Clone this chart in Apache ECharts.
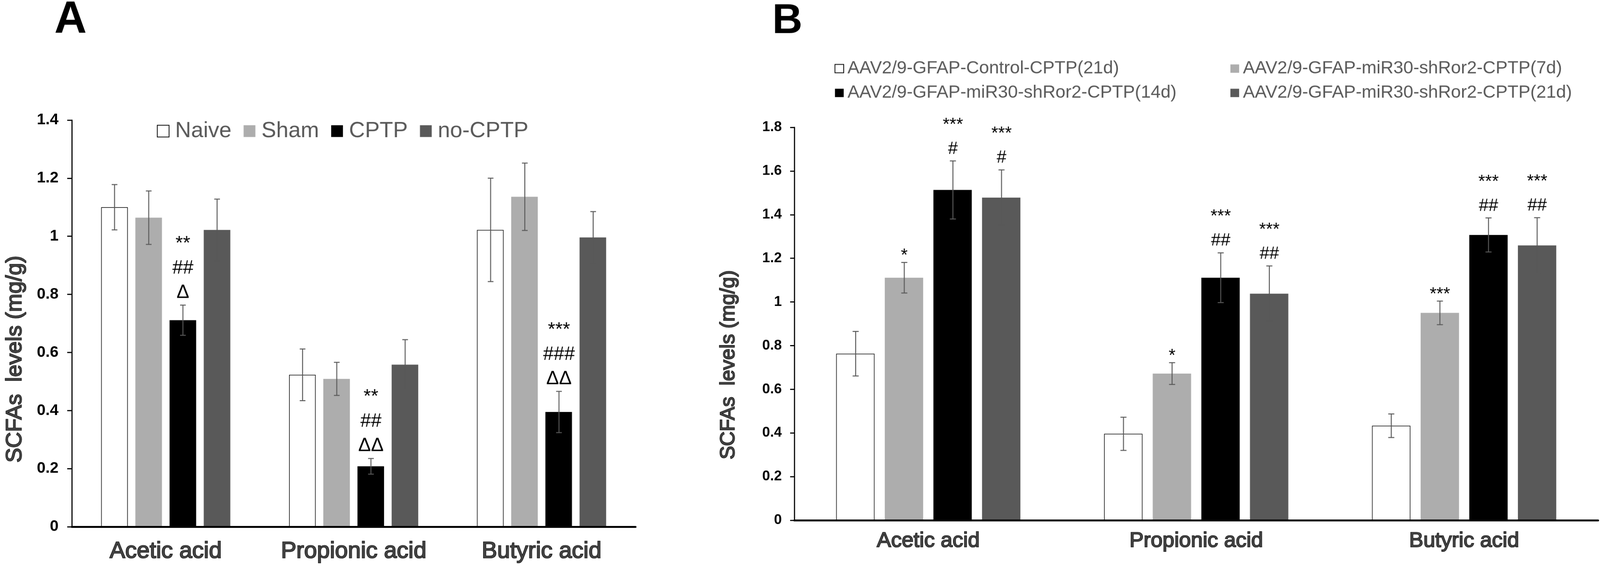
<!DOCTYPE html>
<html>
<head>
<meta charset="utf-8">
<script src="https://cdn.jsdelivr.net/npm/echarts@6/dist/echarts.min.js"></script>
<style>
html,body{margin:0;padding:0;background:#fff;overflow:hidden;}
#chart{width:4212px;height:1497px;transform-origin:0 0;}
</style>
</head>
<body>
<div id="chart"></div>
<script>
// ---------- data ----------
const categories = ['Acetic acid', 'Propionic acid', 'Butyric acid'];

const namesA = ['Naive', 'Sham', 'CPTP', 'no-CPTP'];
const naiveMean = [1.100, 0.523, 1.022];
const shamMean = [1.064, 0.509, 1.136];
const cptpMean = [0.711, 0.208, 0.395];
const noCptpMean = [1.022, 0.558, 0.996];
const naiveSd = [0.078, 0.089, 0.178];
const shamSd = [0.092, 0.057, 0.116];
const cptpSd = [0.052, 0.027, 0.071];
const noCptpSd = [0.106, 0.086, 0.089];
const naiveSig = ['', '', ''];
const shamSig = ['', '', ''];
const cptpSig = ['**\n##\nΔ', '**\n##\nΔΔ', '***\n###\nΔΔ'];
const noCptpSig = ['', '', ''];

const namesB = [
  'AAV2/9-GFAP-Control-CPTP(21d)',
  'AAV2/9-GFAP-miR30-shRor2-CPTP(7d)',
  'AAV2/9-GFAP-miR30-shRor2-CPTP(14d)',
  'AAV2/9-GFAP-miR30-shRor2-CPTP(21d)'
];
const ctrl21Mean = [0.763, 0.396, 0.433];
const sh7Mean = [1.111, 0.672, 0.950];
const sh14Mean = [1.513, 1.111, 1.307];
const sh21Mean = [1.478, 1.038, 1.259];
const ctrl21Sd = [0.102, 0.076, 0.054];
const sh7Sd = [0.070, 0.050, 0.054];
const sh14Sd = [0.133, 0.114, 0.078];
const sh21Sd = [0.127, 0.127, 0.127];
const ctrl21Sig = ['', '', ''];
const sh7Sig = ['*', '*', '***'];
const sh14Sig = ['***\n#', '***\n##', '***\n##'];
const sh21Sig = ['***\n#', '***\n##', '***\n##'];

const yTicksA = { min: 0, max: 1.4, interval: 0.2 };
const yTicksB = { min: 0, max: 1.8, interval: 0.2 };

// ---------- styles ----------
const FONT = "'Liberation Sans', Arial, Helvetica, sans-serif";
const fills = ['#ffffff', '#adadad', '#000000', '#595959'];

const panels = [
  {
    idx: 0, names: namesA,
    means: [naiveMean, shamMean, cptpMean, noCptpMean],
    sds: [naiveSd, shamSd, cptpSd, noCptpSd],
    sig: [naiveSig, shamSig, cptpSig, noCptpSig],
    barW: 70, gap: 20, cap: 15, fs: 50, lineH: 64
  },
  {
    idx: 1, names: namesB,
    means: [ctrl21Mean, sh7Mean, sh14Mean, sh21Mean],
    sds: [ctrl21Sd, sh7Sd, sh14Sd, sh21Sd],
    sig: [ctrl21Sig, sh7Sig, sh14Sig, sh21Sig],
    barW: 101, gap: 27, cap: 16, fs: 46, lineH: 63
  }
];

function barSeries(p) {
  return p.names.map((n, k) => ({
    name: n, type: 'bar', xAxisIndex: p.idx, yAxisIndex: p.idx,
    data: p.means[k],
    barWidth: p.barW,
    barGap: (p.gap / p.barW * 100).toFixed(2) + '%',
    itemStyle: k === 0
      ? { color: fills[0], borderColor: '#000', borderWidth: 1.5 }
      : { color: fills[k] },
    emphasis: { disabled: true },
    silent: true, z: 2
  }));
}

function errSeries(p) {
  const data = [];
  p.means.forEach((arr, k) => arr.forEach((m, c) => data.push([c, m, p.sds[k][c], k])));
  return {
    type: 'custom', xAxisIndex: p.idx, yAxisIndex: p.idx,
    clip: false, silent: true, z: 6,
    encode: { x: 0, y: 1 },
    data: data,
    renderItem: function (params, api) {
      const c = api.value(0), m = api.value(1), s = api.value(2), k = api.value(3);
      const total = 4 * p.barW + 3 * p.gap;
      const off = -total / 2 + p.barW / 2 + k * (p.barW + p.gap);
      const top = api.coord([c, m + s]);
      const bot = api.coord([c, m - s]);
      const x = Math.round(top[0] + off) + 0.5;
      const h = p.cap / 2;
      const ls = { stroke: '#595959', lineWidth: 2.5 };
      const children = [
        { type: 'line', shape: { x1: x, y1: top[1], x2: x, y2: bot[1] }, style: ls },
        { type: 'line', shape: { x1: x - h, y1: top[1], x2: x + h, y2: top[1] }, style: ls },
        { type: 'line', shape: { x1: x - h, y1: bot[1], x2: x + h, y2: bot[1] }, style: ls }
      ];
      const ann = p.sig[k][c];
      if (ann) {
        const lines = ann.split('\n').reverse();
        const y0 = top[1] - (lines[0].charAt(0) === '*' ? 17 : 15 + 0.36 * p.fs);
        lines.forEach((t, i) => {
          children.push({
            type: 'text', x: x, y: y0 - i * p.lineH,
            style: {
              text: t, fill: '#000', fontSize: p.fs, fontFamily: FONT,
              align: 'center', verticalAlign: 'middle'
            }
          });
        });
      }
      return { type: 'group', children: children };
    }
  };
}

const catLabel = (fs, margin) => ({
  interval: 0, fontSize: fs, fontFamily: FONT, color: '#444',
  textBorderColor: '#000', textBorderWidth: 2.2, margin: margin
});
const valLabel = (fs, margin) => ({
  fontSize: fs, fontFamily: FONT, fontWeight: 'bold', color: '#000', margin: margin
});

const option = {
  backgroundColor: '#fff',
  animation: false,
  grid: [
    { left: 189, top: 316, width: 1484, height: 1070 },
    { left: 2091, top: 335, width: 2116, height: 1034 }
  ],
  xAxis: [
    {
      type: 'category', gridIndex: 0, data: categories, z: 10,
      axisLine: { lineStyle: { color: '#000', width: 5 } },
      axisTick: { show: false }, axisLabel: catLabel(61, 35)
    },
    {
      type: 'category', gridIndex: 1, data: categories, z: 10,
      axisLine: { lineStyle: { color: '#000', width: 5 } },
      axisTick: { show: false }, axisLabel: catLabel(56, 27)
    }
  ],
  yAxis: [
    {
      type: 'value', gridIndex: 0, min: yTicksA.min, max: yTicksA.max, interval: yTicksA.interval,
      splitLine: { show: false },
      axisLine: { show: true, lineStyle: { color: '#000', width: 3 } },
      axisTick: { show: true, length: 12, lineStyle: { color: '#000', width: 3 } },
      axisLabel: valLabel(41, 35)
    },
    {
      type: 'value', gridIndex: 1, min: yTicksB.min, max: yTicksB.max, interval: yTicksB.interval,
      splitLine: { show: false },
      axisLine: { show: true, lineStyle: { color: '#000', width: 3 } },
      axisTick: { show: true, length: 11, lineStyle: { color: '#000', width: 3 } },
      axisLabel: valLabel(37, 33)
    }
  ],
  legend: [
    {
      data: namesA, left: 413, top: 316, orient: 'horizontal', padding: 0, icon: 'rect',
      itemWidth: 31, itemHeight: 31, itemGap: 32, selectedMode: false,
      textStyle: { fontSize: 58, fontFamily: FONT, color: '#595959', padding: [0, 0, 0, 11] }
    },
    {
      data: [namesB[0], namesB[2]], left: 2197, top: 157, orient: 'vertical', padding: 0, icon: 'rect',
      itemWidth: 23, itemHeight: 22, itemGap: 17, selectedMode: false,
      textStyle: { fontSize: 47, lineHeight: 47, fontFamily: FONT, color: '#595959', padding: [0, 0, 0, 5] }
    },
    {
      data: [namesB[1], namesB[3]], left: 3239, top: 157, orient: 'vertical', padding: 0, icon: 'rect',
      itemWidth: 23, itemHeight: 22, itemGap: 17, selectedMode: false,
      textStyle: { fontSize: 47, lineHeight: 47, fontFamily: FONT, color: '#595959', padding: [0, 0, 0, 5] }
    }
  ],
  graphic: [
    {
      type: 'text', x: 143, y: 53,
      style: { text: 'A', fontSize: 118, fontWeight: 'bold', fontFamily: FONT, fill: '#000', align: 'left', verticalAlign: 'middle' }
    },
    {
      type: 'text', x: 2033, y: 57,
      style: { text: 'B', fontSize: 110, fontWeight: 'bold', fontFamily: FONT, fill: '#000', align: 'left', verticalAlign: 'middle' }
    },
    {
      type: 'text', x: 40, y: 945, rotation: Math.PI / 2,
      style: {
        text: 'SCFAs  levels (mg/g)', fontSize: 58, fontFamily: FONT, fill: '#444',
        stroke: '#000', lineWidth: 2.2, align: 'center', verticalAlign: 'middle'
      }
    },
    {
      type: 'text', x: 1918, y: 960, rotation: Math.PI / 2,
      style: {
        text: 'SCFAs  levels (mg/g)', fontSize: 53, fontFamily: FONT, fill: '#444',
        stroke: '#000', lineWidth: 2.2, align: 'center', verticalAlign: 'middle'
      }
    }
  ],
  series: [].concat(
    barSeries(panels[0]), barSeries(panels[1]),
    [errSeries(panels[0]), errSeries(panels[1])]
  )
};

// fit the 4212x1497 design into the actual viewport
const W0 = 4212, H0 = 1497;
const vw = window.innerWidth || document.documentElement.clientWidth || W0;
const vh = window.innerHeight || document.documentElement.clientHeight || H0;
const k = Math.min(vw / W0, vh / H0);
const el = document.getElementById('chart');
if (Math.abs(k - 1) > 0.002) el.style.transform = 'scale(' + k + ')';
const dpr = (window.devicePixelRatio || 1) * Math.min(k, 1);
const chart = echarts.init(el, null, { renderer: 'canvas', devicePixelRatio: dpr < 1 ? (window.devicePixelRatio || 1) : dpr });
chart.setOption(option);
</script>
</body>
</html>
